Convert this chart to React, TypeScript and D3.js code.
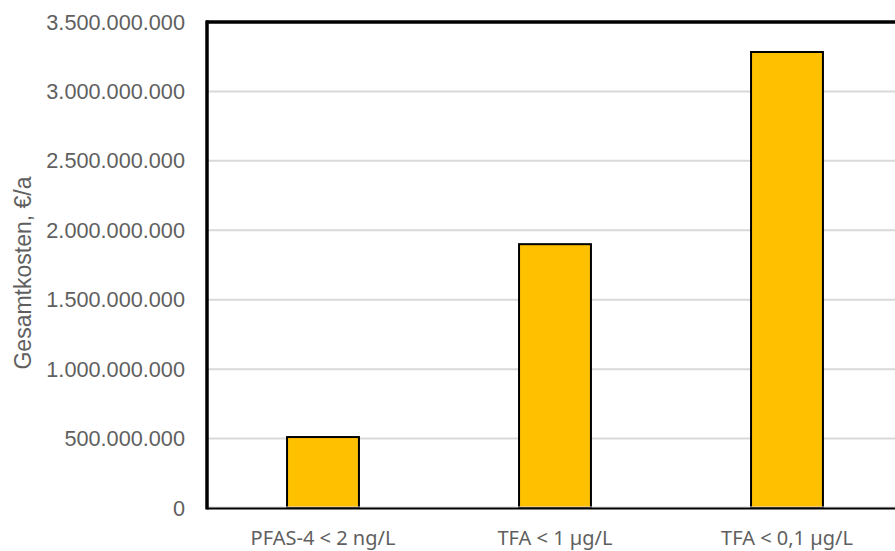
import React from "react";
import * as d3 from "d3";

const categories = ["PFAS-4 < 2 ng/L", "TFA < 1 µg/L", "TFA < 0,1 µg/L"];
const totalCost = [511000000, 1900000000, 3284000000];
const yTicks = [0, 500000000, 1000000000, 1500000000, 2000000000, 2500000000, 3000000000, 3500000000];
const yAxisTitle = "Gesamtkosten, €/a";

const W = 895;
const H = 551;
const left = 207;
const right = 903;
const top = 22;
const bottom = 508;

const fmt = (v: number) => d3.format(",")(v).replace(/,/g, ".");

export default function App() {
  const x = d3.scaleBand<string>().domain(categories).range([left, right]).paddingInner(0.69).paddingOuter(0.345);
  const y = d3.scaleLinear().domain([0, 3500000000]).range([bottom, top]);
  const bw = x.bandwidth();
  return (
    <svg width={W} height={H} style={{ position: "absolute", left: 0, top: 0, background: "#fff" }}>
      {yTicks.slice(1, -1).map((t) => (
        <line key={t} x1={left} x2={W} y1={y(t)} y2={y(t)} stroke="#d9d9d9" strokeWidth={2} />
      ))}
      {yTicks.map((t) => (
        <text key={t} x={185} y={y(t)} dy="0.35em" textAnchor="end" fontFamily="Liberation Sans, Arial, sans-serif" fontSize={21.7} fill="#5f5f5f">
          {fmt(t)}
        </text>
      ))}
      <text transform={`translate(23,${273}) rotate(-90)`} textAnchor="middle" dy="0.35em" fontFamily="Liberation Sans, Arial, sans-serif" fontSize={23} fill="#5f5f5f">
        {yAxisTitle}
      </text>
      {categories.map((c, i) => (
        <rect key={c} x={x(c)!} y={y(totalCost[i])} width={bw} height={bottom - y(totalCost[i])} fill="#FFC000" stroke="#000" strokeWidth={2} />
      ))}
      <line x1={left} x2={W} y1={bottom - 1} y2={bottom - 1} stroke="#d9d9d9" strokeWidth={1} />
      <line x1={left} x2={W} y1={bottom + 0.5} y2={bottom + 0.5} stroke="#000" strokeWidth={2} />
      <line x1={left - 1} x2={W} y1={top} y2={top} stroke="#000" strokeWidth={3.5} />
      <line x1={left} x2={left} y1={top - 1.5} y2={bottom + 1.5} stroke="#000" strokeWidth={3.5} />
      {categories.map((c) => (
        <text key={c} x={x(c)! + bw / 2} y={538} dy="0.35em" textAnchor="middle" fontFamily="Noto Sans, sans-serif" fontSize={20} fill="#5f5f5f">
          {c}
        </text>
      ))}
    </svg>
  );
}
